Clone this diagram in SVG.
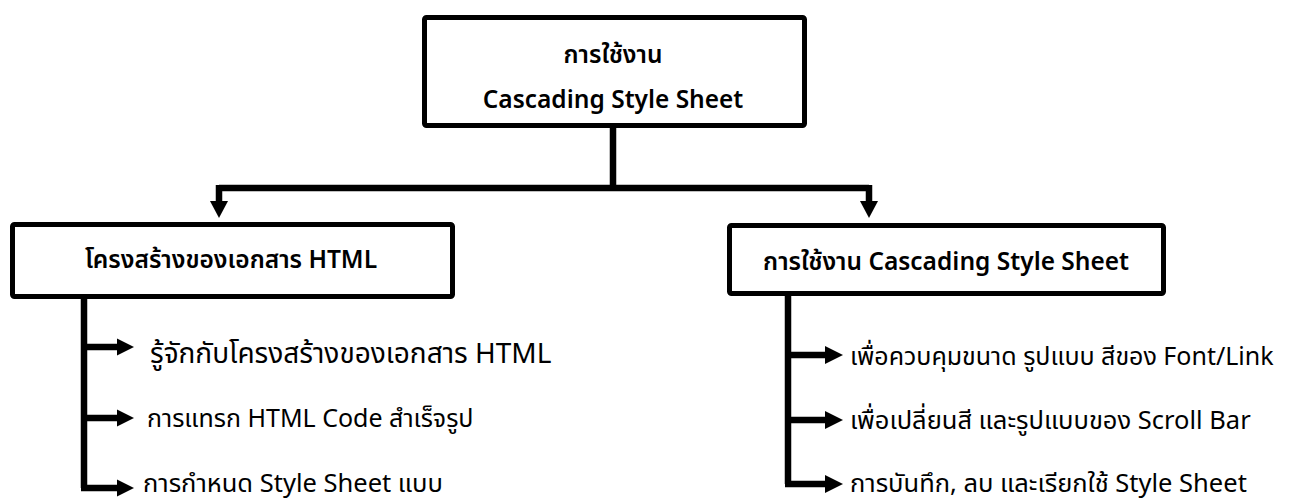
<svg xmlns="http://www.w3.org/2000/svg" width="1294" height="501" viewBox="0 0 1294 501">
  <style>
    .box { fill: #ffffff; stroke: #000000; stroke-width: 5; }
    .wire { fill: none; stroke: #000000; stroke-width: 6.5; }
    .head { fill: #000000; }
    .t { font-family: "Noto Sans Thai", "Noto Sans", "Open Sans", sans-serif; fill: #000000; }
    .title { font-size: 24.5px; font-weight: 600; text-anchor: middle; }
    .item { font-size: 25.5px; }
  </style>
  <rect width="1294" height="501" fill="#ffffff"/>

  <!-- connectors: trunk, split and the two item spines -->
  <g id="connectors">
    <path class="wire" d="M613 128 V188 M219 188 H869 M219 185 V202 M869 185 V202"/>
    <polygon class="head" points="210,201 228,201 219,218"/>
    <polygon class="head" points="860,201 878,201 869,218"/>
    <path class="wire" d="M84 298 V488 M81 347 H118 M81 418 H118 M81 488 H118"/>
    <polygon class="head" points="117,338.5 134,347 117,355.5"/>
    <polygon class="head" points="117,409.5 134,418 117,426.5"/>
    <polygon class="head" points="117,479.5 134,488 117,496.5"/>
    <path class="wire" d="M788 295 V484 M785 355 H826 M785 420 H826 M785 484 H826"/>
    <polygon class="head" points="825,346 843,355 825,364"/>
    <polygon class="head" points="825,411 843,420 825,429"/>
    <polygon class="head" points="825,475 843,484 825,493"/>
  </g>

  <g id="node-root">
    <rect class="box" x="424.5" y="17.5" width="380" height="108" rx="2"/>
    <text class="t title" x="613" y="63">การใช้งาน</text>
    <text class="t title" x="613" y="108">Cascading Style Sheet</text>
  </g>

  <g id="node-html">
    <rect class="box" x="12.5" y="224.5" width="440" height="72" rx="2"/>
    <text class="t title" x="231" y="268">โครงสร้างของเอกสาร HTML</text>
  </g>

  <g id="node-css">
    <rect class="box" x="729.5" y="225.5" width="434" height="68" rx="2"/>
    <text class="t title" x="946" y="270">การใช้งาน Cascading Style Sheet</text>
  </g>

  <g id="items-html">
    <text class="t item" x="150" y="363" style="font-size:28px">รู้จักกับโครงสร้างของเอกสาร HTML</text>
    <text class="t item" x="147" y="427" style="font-size:25px">การแทรก HTML Code สำเร็จรูป</text>
    <text class="t item" x="143" y="492">การกำหนด Style Sheet แบบ</text>
  </g>

  <g id="items-css">
    <text class="t item" x="850" y="365" style="font-size:25px">เพื่อควบคุมขนาด รูปแบบ สีของ Font/Link</text>
    <text class="t item" x="850" y="429">เพื่อเปลี่ยนสี และรูปแบบของ Scroll Bar</text>
    <text class="t item" x="850" y="492">การบันทึก, ลบ และเรียกใช้ Style Sheet</text>
  </g>
</svg>
